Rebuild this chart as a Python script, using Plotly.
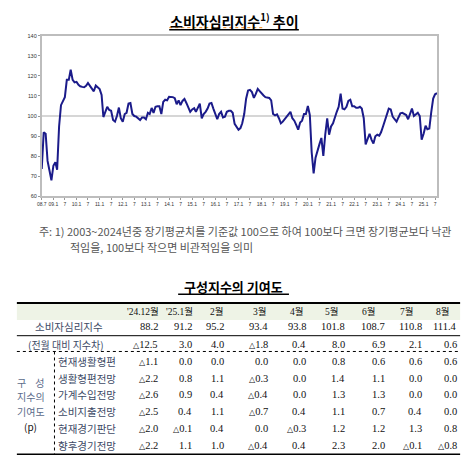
import pandas as pd
import plotly.graph_objects as go

# === 소비자심리지수 (월별, 그림에서 읽은 값) ===
csi_2008 = [73.7, 91.9, 91.2, 77.7, 72.8, 68.0]  # 7월~12월
csi_2009 = [75.3, 77.0, 73.3, 94.8, 105.4, 107.5, 109.4, 118.0, 118.0, 123.0, 118.0, 116.7]
csi_2010 = [117.0, 115.5, 114.8, 114.5, 114.3, 115.0, 116.4, 115.0, 113.5, 112.3, 115.2, 114.5]
csi_2011 = [113.4, 110.5, 99.5, 102.1, 104.6, 103.0, 102.6, 98.0, 97.2, 100.0, 104.2, 98.9]
csi_2012 = [97.2, 101.0, 101.6, 106.2, 106.5, 101.0, 100.0, 99.7, 98.9, 98.0, 99.3, 99.3]
csi_2013 = [98.4, 101.6, 101.0, 104.0, 101.6, 104.6, 104.9, 104.9, 101.0, 107.0, 108.1, 107.8]
csi_2014 = [109.6, 109.6, 109.4, 108.9, 105.9, 107.8, 105.4, 107.5, 108.5, 106.5, 104.6, 102.1]
csi_2015 = [103.3, 103.9, 102.1, 104.6, 106.2, 98.9, 101.0, 102.1, 103.7, 106.2, 106.5, 103.7]
csi_2016 = [101.0, 98.4, 101.0, 102.1, 99.3, 99.7, 102.1, 102.6, 102.6, 101.6, 96.1, 94.5]
csi_2017 = [93.2, 94.0, 96.4, 101.0, 108.6, 112.7, 113.0, 111.9, 109.0, 111.0, 113.5, 112.4]
csi_2018 = [111.0, 110.2, 109.4, 109.0, 109.0, 107.8, 101.0, 100.3, 100.8, 98.9, 96.4, 97.2]
csi_2019 = [98.4, 100.0, 101.0, 102.1, 98.9, 97.7, 95.6, 93.2, 96.8, 97.7, 101.0, 101.0]
csi_2020 = [105.0, 100.5, 82.0, 71.5, 79.3, 83.4, 85.9, 89.1, 80.2, 90.7, 98.9, 90.7]
csi_2021 = [94.8, 96.4, 99.7, 102.1, 104.6, 111.1, 103.7, 103.3, 104.6, 107.5, 108.1, 104.9]
csi_2022 = [104.9, 104.1, 104.1, 104.6, 103.7, 98.9, 85.9, 88.3, 91.2, 88.3, 86.3, 89.9]
csi_2023 = [90.7, 90.2, 91.9, 94.8, 98.0, 101.0, 103.7, 103.3, 99.7, 98.4, 97.2, 99.3]
csi_2024 = [101.3, 101.6, 101.0, 100.5, 98.4, 101.0, 103.7, 100.0, 101.0, 101.6, 100.0, 88.2]
csi_2025 = [91.2, 95.2, 93.4, 93.8, 101.8, 108.7, 110.8, 111.4]  # 1월~8월

x_tick_labels = ["08.7", "09.1", "7", "10.1", "7", "11.1", "7", "12.1", "7", "13.1", "7",
                 "14.1", "7", "15.1", "7", "16.1", "7", "17.1", "7", "18.1", "7", "19.1", "7",
                 "20.1", "7", "21.1", "7", "22.1", "7", "23.1", "7", "24.1", "7", "25.1", "7"]

# === 구성지수의 기여도 표 ===
columns = ["'24.12월", "'25.1월", "2월", "3월", "4월", "5월", "6월", "7월", "8월"]
csi_row = [88.2, 91.2, 95.2, 93.4, 93.8, 101.8, 108.7, 110.8, 111.4]
diff_row = [-12.5, 3.0, 4.0, -1.8, 0.4, 8.0, 6.9, 2.1, 0.6]
comp_names = ["현재생활형편", "생활형편전망", "가계수입전망", "소비지출전망", "현재경기판단", "향후경기전망"]
comp_values = [
    [-1.1, 0.0, 0.0, 0.0, 0.0, 0.8, 0.6, 0.6, 0.6],
    [-2.2, 0.8, 1.1, -0.3, 0.0, 1.4, 1.1, 0.0, 0.0],
    [-2.6, 0.9, 0.4, -0.4, 0.0, 1.3, 1.3, 0.0, 0.0],
    [-2.5, 0.4, 1.1, -0.7, 0.4, 1.1, 0.7, 0.4, 0.0],
    [-2.0, -0.1, 0.4, 0.0, -0.3, 1.2, 1.2, 1.3, 0.8],
    [-2.2, 1.1, 1.0, -0.4, 0.4, 2.3, 2.0, -0.1, -0.8],
]

W, H = 471, 469
KR = "Noto Sans CJK KR"
SERIF = "Liberation Serif, DejaVu Serif, Noto Sans CJK KR"


def px(x):
    return x / W


def py(y):
    return 1 - y / H


def fmt(v):
    # 음수는 △ 표기 (작은 삼각형)
    if v < 0:
        return f"<span style='font-size:8px'>△</span>{abs(v):.1f}"
    return f"{v:.1f}"


values = (csi_2008 + csi_2009 + csi_2010 + csi_2011 + csi_2012 + csi_2013 + csi_2014
          + csi_2015 + csi_2016 + csi_2017 + csi_2018 + csi_2019 + csi_2020 + csi_2021
          + csi_2022 + csi_2023 + csi_2024 + csi_2025)
months = pd.date_range("2008-07-01", periods=len(values), freq="MS")
tick_dates = pd.date_range("2008-07-01", periods=len(x_tick_labels), freq="6MS")

fig = go.Figure()
fig.add_trace(go.Scatter(x=months, y=values, mode="lines",
                         line=dict(color="#1b1b8a", width=2), hoverinfo="skip"))

annotations = []
shapes = []


def text(x, y, s, size=10, family=KR, color="#222", anchor="center"):
    annotations.append(dict(x=px(x), y=py(y), xref="paper", yref="paper", text=s,
                            showarrow=False, xanchor=anchor, yanchor="middle",
                            borderpad=0, font=dict(size=size, family=family, color=color)))


def hline(x0, x1, y, color="black", width=1, dash="solid"):
    shapes.append(dict(type="line", xref="paper", yref="paper", x0=px(x0), x1=px(x1),
                       y0=py(y), y1=py(y), line=dict(color=color, width=width, dash=dash)))


# === 제목 ===
text(231.5, 18, "<b>소비자심리지수<sup>1)</sup> 추이</b>", size=14, color="black")
hline(166, 262, 25, color="#f08a1c", width=1, dash="dot")
hline(166, 297, 27, width=1.5)

# 기준선 100
shapes.append(dict(type="line", xref="x domain", yref="y", x0=0, x1=1, y0=100, y1=100,
                   line=dict(color="#c8c8c8", width=1.5), layer="below"))

# === 주석 ===
text(33, 231, "주: 1) 2003~2024년중 장기평균치를 기준값 100으로 하여 100보다 크면 장기평균보다 낙관",
     size=11, color="#555", anchor="left")
text(65, 247, "적임을, 100보다 작으면 비관적임을 의미", size=11, color="#555", anchor="left")

# === 표 ===
text(231, 287, "<b>구성지수의 기여도</b>", size=13, color="black")
hline(175, 287, 295, width=1.5)

shapes.append(dict(type="rect", xref="paper", yref="paper", x0=px(12), x1=px(460),
                   y0=py(321), y1=py(305), fillcolor="#eef3e6", line=dict(width=0)))
hline(12, 460, 304, width=2)
hline(12, 460, 337, width=1)
hline(12, 460, 353, width=1, dash="dot")
hline(12, 460, 457, width=1.5)
shapes.append(dict(type="line", xref="paper", yref="paper", x0=px(50), x1=px(50),
                   y0=py(353), y1=py(457), line=dict(color="black", width=1, dash="dot")))

head_x = [122, 162, 206, 250, 287, 322, 360, 398, 435]
val_x = [156, 190, 222, 267, 305, 345, 385, 422, 458]
label_col = "#3d4a66"

for hx, c in zip(head_x, columns):
    text(hx, 312, c, size=9.5, family=SERIF, color="#111", anchor="left")

text(65, 328, "소비자심리지수", size=10.5, color=label_col)
for vx, v in zip(val_x, csi_row):
    text(vx, 328, f"{v:.1f}", size=10.5, family=SERIF, color="#111", anchor="right")

text(62, 346, "(전월 대비 지수차)", size=10, color=label_col)
for vx, v in zip(val_x, diff_row):
    text(vx, 346, fmt(v), size=10.5, family=SERIF, color="#111", anchor="right")

row_y = [363, 380, 397, 414, 431, 448]
for ry, name, vals in zip(row_y, comp_names, comp_values):
    text(53, ry, name, size=10.5, color=label_col, anchor="left")
    for vx, v in zip(val_x, vals):
        text(vx, ry, fmt(v), size=10.5, family=SERIF, color="#111", anchor="right")

for ly, s in zip([384, 399, 414, 429], ["구&nbsp;&nbsp;&nbsp;&nbsp;성", "지수의", "기여도", "(p)"]):
    text(26, ly, s, size=10, color="#5b6b8a" if s != "(p)" else "#111")

fig.update_layout(
    width=W, height=H,
    margin=dict(l=0, r=0, t=0, b=0),
    paper_bgcolor="white", plot_bgcolor="white",
    showlegend=False,
    xaxis=dict(domain=[px(37), px(437)],
               range=[pd.Timestamp("2008-06-29"), pd.Timestamp("2025-08-06")],
               tickvals=tick_dates, ticktext=x_tick_labels, tickangle=0,
               tickfont=dict(size=5, family="Liberation Sans", color="#333"),
               showgrid=False, showline=True, linecolor="#bdbdbd", linewidth=1.5,
               mirror=True, ticks="outside", ticklen=2, tickcolor="#999", zeroline=False),
    yaxis=dict(domain=[py(196), py(33)], range=[60, 140], dtick=10,
               tickfont=dict(size=5.5, family="Liberation Sans", color="#333"),
               showgrid=False, showline=True, linecolor="#bdbdbd", linewidth=1.5,
               mirror=True, ticks="outside", ticklen=2, tickcolor="#999", zeroline=False),
    annotations=annotations,
    shapes=shapes,
)

fig.write_html("out.html", config={"displayModeBar": False},
               post_script="document.body.style.margin='0';document.body.style.overflow='hidden';")
